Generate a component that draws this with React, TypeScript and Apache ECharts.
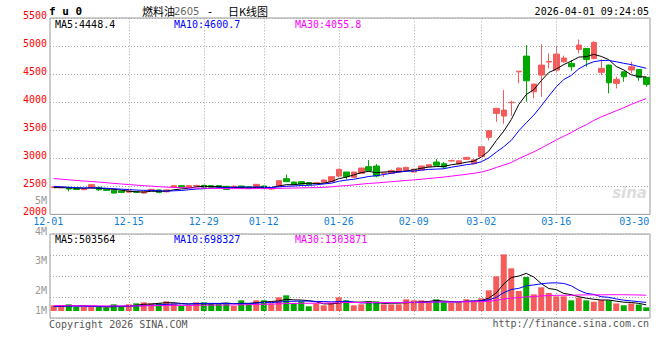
import React, { useEffect, useRef } from 'react';
import * as echarts from 'echarts';

// ---------- data ----------
const dates: string[] = [
  '2025-12-01','2025-12-02','2025-12-03','2025-12-04','2025-12-05','2025-12-08','2025-12-09','2025-12-10','2025-12-11','2025-12-12',
  '2025-12-15','2025-12-16','2025-12-17','2025-12-18','2025-12-19','2025-12-22','2025-12-23','2025-12-24','2025-12-25','2025-12-26',
  '2025-12-29','2025-12-30','2025-12-31',
  '2026-01-05','2026-01-06','2026-01-07','2026-01-08','2026-01-09','2026-01-12','2026-01-13','2026-01-14','2026-01-15','2026-01-16',
  '2026-01-19','2026-01-20','2026-01-21','2026-01-22','2026-01-23','2026-01-26','2026-01-27','2026-01-28','2026-01-29','2026-01-30',
  '2026-02-02','2026-02-03','2026-02-04','2026-02-05','2026-02-06','2026-02-09','2026-02-10','2026-02-11','2026-02-12','2026-02-13',
  '2026-02-24','2026-02-25','2026-02-26','2026-02-27',
  '2026-03-02','2026-03-03','2026-03-04','2026-03-05','2026-03-06','2026-03-09','2026-03-10','2026-03-11','2026-03-12','2026-03-13',
  '2026-03-16','2026-03-17','2026-03-18','2026-03-19','2026-03-20','2026-03-23','2026-03-24','2026-03-25','2026-03-26','2026-03-27',
  '2026-03-30','2026-03-31','2026-04-01',
];

// [open, close, low, high]
const ohlc: number[][] = [
  [2478, 2492, 2470, 2500], [2476, 2484, 2466, 2492], [2480, 2452, 2410, 2484], [2466, 2444, 2432, 2472], [2440, 2456, 2432, 2462],
  [2470, 2530, 2462, 2535], [2482, 2438, 2420, 2490], [2446, 2428, 2418, 2452], [2432, 2380, 2370, 2440], [2418, 2392, 2380, 2425],
  [2396, 2420, 2385, 2458], [2402, 2396, 2386, 2410], [2380, 2404, 2370, 2412], [2426, 2446, 2418, 2452], [2436, 2392, 2386, 2440],
  [2402, 2436, 2396, 2446], [2482, 2512, 2476, 2516], [2512, 2484, 2476, 2518], [2484, 2512, 2470, 2518], [2508, 2514, 2498, 2530],
  [2518, 2484, 2476, 2522], [2512, 2486, 2478, 2516], [2512, 2482, 2476, 2516], [2500, 2446, 2440, 2505], [2494, 2500, 2484, 2520],
  [2506, 2470, 2464, 2510], [2494, 2460, 2454, 2500], [2482, 2536, 2476, 2540], [2506, 2460, 2452, 2510], [2452, 2470, 2440, 2476],
  [2494, 2601, 2488, 2606], [2636, 2583, 2575, 2708], [2577, 2530, 2524, 2582], [2583, 2541, 2535, 2590], [2565, 2530, 2524, 2570],
  [2555, 2562, 2545, 2580], [2571, 2613, 2565, 2620], [2583, 2672, 2578, 2680], [2684, 2803, 2660, 2814], [2755, 2672, 2625, 2760],
  [2660, 2755, 2655, 2760], [2731, 2826, 2725, 2830], [2850, 2779, 2772, 2969], [2862, 2684, 2660, 2898], [2730, 2738, 2668, 2742],
  [2731, 2779, 2720, 2800], [2755, 2826, 2745, 2840], [2779, 2838, 2770, 2850], [2755, 2803, 2750, 2815], [2791, 2862, 2785, 2870],
  [2850, 2886, 2845, 2892], [2933, 2874, 2868, 2987], [2904, 2844, 2818, 2933], [2952, 2958, 2940, 2975], [2900, 2954, 2892, 2962],
  [2981, 3016, 2975, 3025], [2905, 2972, 2895, 2980], [3028, 3206, 3020, 3210], [3373, 3491, 3320, 3495], [3800, 3890, 3651, 3895],
  [3752, 3859, 3616, 4216], [3992, 3998, 3760, 4025], [4540, 4552, 4335, 4556], [4821, 4381, 4007, 5015], [4185, 4322, 4068, 4330],
  [4483, 4661, 4096, 5032], [4715, 4725, 4602, 4869], [4572, 4857, 4541, 4999], [4720, 4786, 4700, 4830], [4691, 4631, 4560, 4750],
  [4940, 5017, 4869, 5118], [4958, 4762, 4631, 4965], [4780, 5065, 4760, 5088], [4531, 4602, 4483, 4762], [4661, 4346, 4157, 4670],
  [4335, 4406, 4246, 4453], [4541, 4453, 4364, 4548], [4572, 4631, 4513, 4720], [4584, 4442, 4381, 4590], [4442, 4317, 4275, 4450],
];

const volumes: number[] = [
  465120, 463880, 547310, 328460, 327950, 329120, 328040, 273300, 547800, 328710,
  546930, 629140, 711280, 628750, 629460, 793100, 628830, 410270, 409880, 711540,
  710960, 629300, 628640, 601220, 410530, 875010, 629070, 874620, 875380, 628910,
  1121340, 1285220, 656180, 792870, 383440, 629250, 465060, 656320, 1120780, 874950,
  465210, 547040, 793260, 792640, 546880, 547230, 546710, 957100, 874830, 875260,
  656040, 956890, 711320, 655870, 710940, 957260, 874770, 1039140, 1695300, 2843120,
  4647250, 3499080, 1640330, 2788460, 1367120, 1941050, 1475880, 1203210, 1202760, 874990,
  1100240, 875130, 760310, 899870, 875020, 620140, 469980, 620310, 529870, 300150,
];

// sessions before 12-01 (off-screen), used only for the moving averages
const priorCloses: number[] = [
  2790, 2800, 2770, 2780, 2760, 2750, 2770, 2740, 2730, 2720, 2700, 2690, 2680, 2700, 2670,
  2650, 2640, 2620, 2600, 2580, 2560, 2540, 2520, 2510, 2490, 2480, 2470, 2465, 2475,
];
const priorVolumes: number[] = [
  480000, 450000, 500000, 470000, 430000, 460000, 490000, 440000, 450000, 470000, 460000, 430000, 480000, 450000, 470000,
  440000, 460000, 450000, 470000, 450000, 440000, 410000, 430000, 400000, 420000, 350000, 320000, 340000, 326000,
];

const xLabelDates = ['2025-12-01', '2025-12-15', '2025-12-29', '2026-01-12', '2026-01-26', '2026-02-09', '2026-03-02', '2026-03-16', '2026-03-30'];
const gridDates = ['2025-12-15', '2025-12-29', '2026-01-12', '2026-01-26', '2026-02-09', '2026-03-02', '2026-03-16'];
const priceMaLabels = ['MA5:4448.4', 'MA10:4600.7', 'MA30:4055.8'];
const volMaLabels = ['MA5:503564', 'MA10:698327', 'MA30:1303871'];
const volTickLabels = ['5M', '4M', '3M', '2M', '1M'];
const maPeriods = [5, 10, 30];
const titleCode = 'f u 0';
const titleName = ['燃料油', '2605', '-', '日K线图'];
const timeStamp = '2026-04-01 09:24:05';
const footerLeft = 'Copyright 2026 SINA.COM';
const footerRight = 'http://finance.sina.com.cn';

// ---------- helpers ----------
function movingAverage(prior: number[], values: number[], n: number): number[] {
  const all = prior.concat(values);
  const out: number[] = [];
  for (let i = 0; i < values.length; i++) {
    const end = prior.length + i;
    let s = 0;
    for (let j = end - n + 1; j <= end; j++) s += all[j];
    out.push(+(s / n).toFixed(2));
  }
  return out;
}

const UP = '#f55b5b';
const DOWN = '#00a800';
const MA_COLORS = ['#000000', '#0000ff', '#ff00ff'];
const MONO = '"DejaVu Sans Mono", monospace';
const GRIDLINE = { color: '#aaaaaa', type: [1, 2] as any, width: 1 };
const XLABEL = '#0f7fd5';

export default function App() {
  const ref = useRef<HTMLDivElement>(null);
  useEffect(() => {
    document.body.style.margin = '0';
    const chart = echarts.init(ref.current!, undefined, { renderer: 'svg' });

    const closes = ohlc.map((d) => d[1]);
    const labelIdx = new Set(xLabelDates.map((d) => dates.indexOf(d)));
    const firstLabel = dates.indexOf(xLabelDates[0]);
    const lastLabel = dates.indexOf(xLabelDates[xLabelDates.length - 1]);
    const volData = volumes.map((v, i) => ({
      value: v,
      itemStyle: { color: ohlc[i][1] >= ohlc[i][0] ? UP : DOWN },
    }));
    const vLines = {
      silent: true,
      symbol: ['none', 'none'],
      label: { show: false },
      lineStyle: GRIDLINE,
      emphasis: { disabled: true },
      data: gridDates.map((d) => ({ xAxis: d })),
    };

    const priceMaSeries = maPeriods.map((n, k) => ({
      type: 'line',
      xAxisIndex: 0,
      yAxisIndex: 0,
      data: movingAverage(priorCloses, closes, n),
      showSymbol: false,
      symbol: 'none',
      lineStyle: { color: MA_COLORS[k], width: 1 },
      z: 4,
      silent: true,
    }));
    const volMaSeries = maPeriods.map((n, k) => ({
      type: 'line',
      xAxisIndex: 1,
      yAxisIndex: 1,
      data: movingAverage(priorVolumes, volumes, n),
      showSymbol: false,
      symbol: 'none',
      lineStyle: { color: MA_COLORS[k], width: 1 },
      z: 4,
      silent: true,
    }));

    const maXs = [55, 174, 295];
    const volLabelYs = [200, 231.5, 260.7, 290.7, 310.7];
    const small = (extra: any) => ({ font: `10px ${MONO}`, lineHeight: 8, verticalAlign: 'middle', ...extra });
    const graphic: any[] = [
      { type: 'text', x: 49, y: 11, style: { text: titleCode, font: `bold 11px ${MONO}`, fill: '#000', verticalAlign: 'middle' } },
      { type: 'text', x: 142, y: 11, style: { text: titleName[0], font: '11px "Noto Sans CJK SC"', fill: '#000', verticalAlign: 'middle' } },
      { type: 'text', x: 174, y: 11.5, style: { text: titleName[1], font: '10px "DejaVu Sans"', fill: '#666', verticalAlign: 'middle' } },
      { type: 'text', x: 208, y: 11, style: { text: titleName[2], font: '11px "DejaVu Sans"', fill: '#000', verticalAlign: 'middle' } },
      { type: 'text', x: 228, y: 11, style: { text: titleName[3], font: '11px "Noto Sans CJK SC"', fill: '#000', verticalAlign: 'middle' } },
      { type: 'text', x: 649, y: 11.5, style: small({ text: timeStamp, fill: '#000', align: 'right' }) },
      ...priceMaLabels.map((t, k) => ({ type: 'text', x: maXs[k], y: 24.5, style: small({ text: t, fill: MA_COLORS[k] }) })),
      ...volMaLabels.map((t, k) => ({ type: 'text', x: maXs[k], y: 239, style: small({ text: t, fill: MA_COLORS[k] }) })),
      ...volTickLabels.map((t, k) => ({ type: 'text', x: 47, y: volLabelYs[k], style: small({ text: t, fill: '#999', align: 'right' }) })),
      { type: 'text', x: 49, y: 324, style: small({ text: footerLeft, fill: '#555' }) },
      { type: 'text', x: 649, y: 323, style: small({ text: footerRight, fill: '#555', align: 'right' }) },
      { type: 'text', x: 647, y: 193, z: 0, style: { text: 'sina', font: 'italic bold 15px "DejaVu Sans"', fill: '#dddddd', align: 'right', verticalAlign: 'middle' } },
    ];

    chart.setOption({
      animation: false,
      backgroundColor: '#ffffff',
      graphic,
      grid: [
        { left: 50, top: 18, width: 600, height: 196.4, show: true, borderColor: '#999', borderWidth: 1, backgroundColor: 'transparent' },
        { left: 50, top: 234, width: 600, height: 84, show: true, borderColor: '#999', borderWidth: 1, backgroundColor: 'transparent' },
      ],
      xAxis: [
        {
          type: 'category', gridIndex: 0, data: dates, boundaryGap: true,
          axisLine: { show: false }, axisTick: { show: false }, splitLine: { show: false },
          axisLabel: {
            interval: (i: number) => labelIdx.has(i),
            formatter: (v: string, i: number) => {
              const s = v.slice(5);
              if (i === firstLabel) return `{first|${s}}`;
              if (i === lastLabel) return `{last|${s}}`;
              return s;
            },
            color: XLABEL, fontFamily: MONO, fontSize: 10, lineHeight: 8, margin: 3,
            rich: {
              first: { color: XLABEL, fontFamily: MONO, fontSize: 10, lineHeight: 8, padding: [0, 11, 0, 0] },
              last: { color: XLABEL, fontFamily: MONO, fontSize: 10, lineHeight: 8, padding: [0, 0, 0, 6] },
            },
          },
        },
        {
          type: 'category', gridIndex: 1, data: dates, boundaryGap: true,
          axisLine: { show: false }, axisTick: { show: false }, splitLine: { show: false }, axisLabel: { show: false },
        },
      ],
      yAxis: [
        {
          type: 'value', gridIndex: 0, min: 2000, max: 5500, interval: 500, position: 'left',
          axisLine: { show: false }, axisTick: { show: false },
          splitLine: { show: true, lineStyle: GRIDLINE },
          axisLabel: {
            color: '#ff0000', fontFamily: MONO, fontSize: 10, lineHeight: 6, margin: 3, verticalAlign: 'bottom',
            formatter: (v: number) => String(v),
          },
        },
        {
          type: 'value', gridIndex: 1, min: -574000, max: 6314000,
          axisLine: { show: false }, axisTick: { show: false }, splitLine: { show: false }, axisLabel: { show: false },
        },
        {
          type: 'value', gridIndex: 1, min: 0, max: 4, interval: 1,
          axisLine: { show: false }, axisTick: { show: false }, axisLabel: { show: false },
          splitLine: { show: true, lineStyle: GRIDLINE },
        },
      ],
      series: [
        {
          type: 'candlestick',
          xAxisIndex: 0,
          yAxisIndex: 0,
          data: ohlc,
          barWidth: 6,
          itemStyle: { color: UP, color0: DOWN, borderColor: UP, borderColor0: DOWN, borderWidth: 1 },
          markLine: vLines,
          z: 3,
          silent: true,
        },
        ...priceMaSeries,
        {
          type: 'bar',
          xAxisIndex: 1,
          yAxisIndex: 1,
          data: volData,
          barWidth: 6,
          markLine: vLines,
          z: 3,
          silent: true,
        },
        ...volMaSeries,
      ],
    } as any);

    return () => chart.dispose();
  }, []);
  return <div ref={ref} style={{ width: 660, height: 360 }} />;
}
